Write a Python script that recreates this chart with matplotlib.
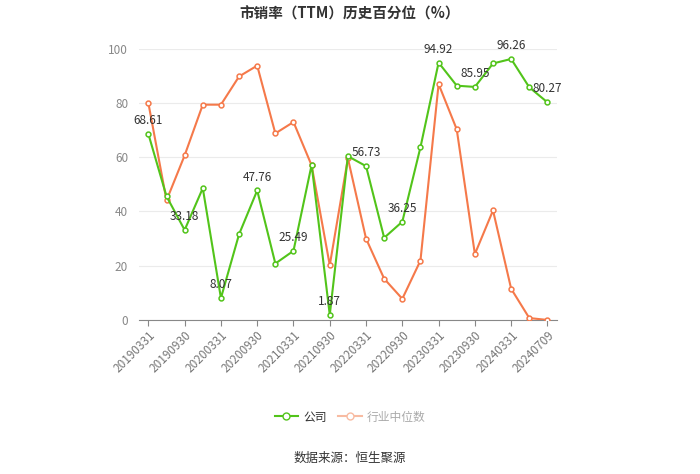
import matplotlib
matplotlib.use("Agg")
import matplotlib.pyplot as plt
from matplotlib.lines import Line2D

plt.rcParams['font.family'] = ['Noto Sans CJK SC', 'DejaVu Sans']

dates = ["20190331", "20190630", "20190930", "20191231", "20200331", "20200630",
         "20200930", "20201231", "20210331", "20210630", "20210930", "20211231",
         "20220331", "20220630", "20220930", "20221231", "20230331", "20230630",
         "20230930", "20231231", "20240331", "20240630", "20240709"]
company = [68.61, 45.6, 33.18, 48.6, 8.07, 31.6, 47.76, 20.8, 25.49, 57.2, 1.87, 60.4,
           56.73, 30.3, 36.25, 63.7, 94.92, 86.4, 85.95, 94.6, 96.26, 85.8, 80.27]
industry = [80.0, 44.1, 60.7, 79.4, 79.4, 89.8, 93.8, 68.8, 73.0, 57.0, 20.2, 59.6,
            30.0, 15.2, 7.8, 21.9, 87.0, 70.3, 24.3, 40.4, 11.5, 0.7, 0.0]
label_idx = [0, 2, 4, 6, 8, 10, 12, 14, 16, 18, 20, 22]

GREEN = "#52c41a"
ORANGE = "#f5794a"

fig = plt.figure(figsize=(7, 4.74), dpi=100)
ax = fig.add_axes([0.199, 0.325, 0.596, 0.572])

x = list(range(len(dates)))
ax.plot(x, industry, color=ORANGE, lw=1.5, marker='o', ms=3.5, mfc='white',
        mec=ORANGE, mew=1.1, zorder=3)
ax.plot(x, company, color=GREEN, lw=1.5, marker='o', ms=3.5, mfc='white',
        mec=GREEN, mew=1.1, zorder=4)

for i in label_idx:
    ax.annotate(f"{company[i]:.2f}", (i, company[i]), xytext=(0, 5),
                textcoords='offset points', ha='center', va='bottom',
                fontsize=8.5, color='#333333', zorder=5)

ax.set_xlim(-0.5, len(dates) - 0.5)
ax.set_ylim(0, 100)
ax.set_yticks([0, 20, 40, 60, 80, 100])
ax.tick_params(axis='y', length=0, labelsize=8.5, labelcolor='#888888', pad=8)
ax.grid(axis='y', color='#ebebeb', lw=0.8)
ax.set_axisbelow(True)

ax.set_xticks(label_idx)
ax.set_xticklabels([dates[i] for i in label_idx], rotation=45, ha='right',
                   rotation_mode='anchor', fontsize=8.5, color='#777777')
ax.tick_params(axis='x', length=4, color='#888888', pad=2)

for s in ['left', 'right', 'top']:
    ax.spines[s].set_visible(False)
ax.spines['bottom'].set_color('#888888')

fig.text(0.5, 0.972, "市销率（TTM）历史百分位（%）", ha='center', va='center',
         fontsize=10.5, fontweight='bold', color='#333333')

handles = [Line2D([0], [0], color=GREEN, lw=1.5, marker='o', ms=5, mfc='white', mec=GREEN),
           Line2D([0], [0], color='#f8bba2', lw=1.5, marker='o', ms=5, mfc='white', mec='#f8bba2')]
leg = fig.legend(handles, ["公司", "行业中位数"], loc='center', bbox_to_anchor=(0.5, 0.12),
                 ncol=2, frameon=False, fontsize=8.5, handlelength=2, columnspacing=1.0,
                 handletextpad=0.4)
leg.get_texts()[0].set_color('#333333')
leg.get_texts()[1].set_color('#aaaaaa')

fig.text(0.5, 0.033, "数据来源：恒生聚源", ha='center', va='center', fontsize=9,
         color='#333333')

fig.savefig("out.png", dpi=100)
